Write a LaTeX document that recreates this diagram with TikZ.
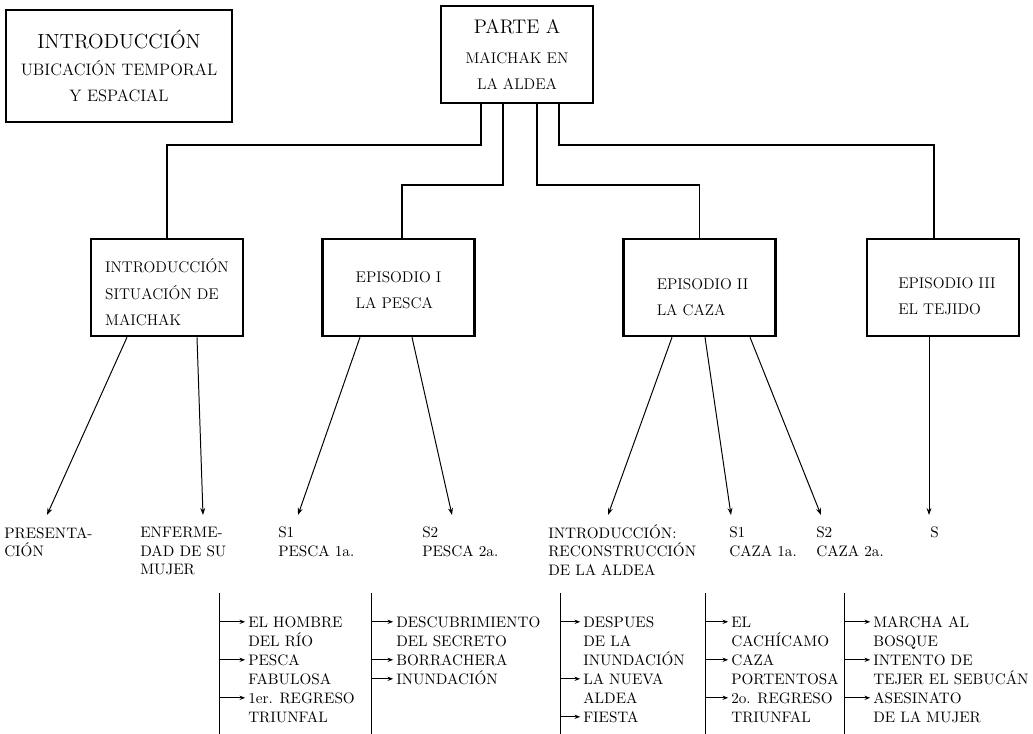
\documentclass[tikz,border=0pt]{standalone}
\usepackage{tikz}
\usetikzlibrary{arrows.meta, positioning, calc}

\begin{document}
\begin{tikzpicture}[x=0.025cm, y=-0.025cm, >=Stealth,
	box/.style={draw, line width=1.8pt, minimum width=3.8cm, minimum height=2.425cm, inner sep=0pt, align=center, font=\fontsize{11}{18.8}\selectfont},
	boxtxt/.style={inner sep=0pt, align=left, font=\fontsize{11}{18.8}\selectfont},
	link/.style={line width=1.4pt},
	arr/.style={-{Stealth[length=5pt, width=3.5pt]}, line width=0.7pt},
	lbl/.style={anchor=north west, inner sep=0pt, align=left, font=\fontsize{10.8}{13.2}\selectfont},
	item/.style={anchor=base west, inner sep=0pt, text height=7.4pt, text depth=0pt, font=\fontsize{10.8}{13.2}\selectfont},
	rule/.style={line width=0.6pt},
	tick/.style={-{Stealth[length=4pt, width=3pt]}, line width=0.9pt, shorten >=2pt}]
	
	\useasboundingbox (0,0) rectangle (1033,734);
	
	% 1. Top boxes
	\node[box, minimum width=5.65cm, minimum height=2.8cm, font=\fontsize{11.8}{18.5}\selectfont] (intro) at (119,66)
		{{\fontsize{14.5}{18.5}\selectfont INTRODUCCIÓN}\\[1pt] UBICACIÓN TEMPORAL\\ Y ESPACIAL};
	\node[box] (parte) at (517,54.5)
		{{\fontsize{14}{18.8}\selectfont PARTE A}\\[2.5pt] MAICHAK EN\\ LA ALDEA};
	
	% 2. Episode boxes
	\node[box] (sit) at (167,287.5) {};
	\node[box] (epiI) at (398.5,287.5) {};
	\node[box] (epiII) at (699.5,287.5) {};
	\node[box] (epiIII) at (943,287.5) {};
	\node[boxtxt] (sitT) at ($(sit)+(0,5)$) {INTRODUCCIÓN\\ SITUACIÓN DE\\ MAICHAK};
	\node[boxtxt] (epiIT) at ($(epiI)+(0,3)$) {EPISODIO I\\ LA PESCA};
	\node[boxtxt] (epiIIT) at ($(epiII)+(3,9.5)$) {EPISODIO II\\ LA CAZA};
	\node[boxtxt] (epiIIIT) at ($(epiIII)+(4,8.5)$) {EPISODIO III\\ EL TEJIDO};
	
	% Elbow links from Parte A
	\draw[link] ($(parte.south)+(-36,0)$) -- ++(0,41) -| (sit.north);
	\draw[link] ($(parte.south)+(-14,0)$) -- ++(0,81) -| ($(epiI.north)+(3.5,0)$);
	\draw[link] ($(parte.south)+(20,0)$) -- ++(0,81) -| (epiII.north);
	\draw[link] ($(parte.south)+(42,0)$) -- ++(0,41) -| ($(epiIII.north)+(-9,0)$);
	
	% 3. Sequence labels
	\node[lbl] (pres) at (4,527) {PRESENTA-\\CIÓN};
	\node[lbl] (enf) at (140,527) {ENFERME-\\DAD DE SU\\MUJER};
	\node[lbl] (pesA) at (278,527) {S1\\PESCA 1a.};
	\node[lbl] (pesB) at (422,527) {S2\\PESCA 2a.};
	\node[lbl] (recon) at (548,524) {INTRODUCCIÓN:\\RECONSTRUCCIÓN\\DE LA ALDEA};
	\node[lbl] (cazA) at (729,527) {S1\\CAZA 1a.};
	\node[lbl] (cazB) at (816,527) {S2\\CAZA 2a.};
	\node[lbl] (tej) at (930,527) {S};
	
	\draw[arr] ($(sit.south)+(-40,0)$) -- ($(pres.north west)+(43,-12)$);
	\draw[arr] ($(sit.south)+(30,0)$) -- ($(enf.north west)+(63,-12)$);
	\draw[arr] ($(epiI.south)+(-38.5,0)$) -- ($(pesA.north west)+(20,-12)$);
	\draw[arr] ($(epiI.south)+(13.5,0)$) -- ($(pesB.north west)+(30,-12)$);
	\draw[arr] ($(epiII.south)+(-27.5,0)$) -- ($(recon.north west)+(60,-9)$);
	\draw[arr] ($(epiII.south)+(5.5,0)$) -- ($(cazA.north west)+(2,-12)$);
	\draw[arr] ($(epiII.south)+(50.5,0)$) -- ($(cazB.north west)+(5,-12)$);
	\draw[arr] ($(epiIII.south)+(-14,0)$) -- ($(tej.north west)+(-1,-12)$);
	
	% 4. Lists of events
	\coordinate (r1) at (219,593);
	\coordinate (r2) at (371,593);
	\coordinate (r3) at (560,593);
	\coordinate (r4) at (705,593);
	\coordinate (r5) at (844,593);
	\foreach \r in {r1,r2,r3,r4,r5}
		\draw[rule] (\r) -- ++(0,141);
	
	\foreach \t [count=\i] in {EL HOMBRE, DEL RÍO, PESCA, FABULOSA, 1er. REGRESO, TRIUNFAL}
		\node[item] (a\i) at (248,{608+19*\i}) {\t};
	\foreach \i in {1,3,5}
		\draw[tick] (a\i.west -| r1) -- (a\i.west);
	
	\foreach \t [count=\i] in {DESCUBRIMIENTO, DEL SECRETO, BORRACHERA, INUNDACIÓN}
		\node[item] (b\i) at (396,{608+19*\i}) {\t};
	\foreach \i in {1,3,4}
		\draw[tick] (b\i.west -| r2) -- (b\i.west);
	
	\foreach \t [count=\i] in {DESPUES, DE LA, INUNDACIÓN, LA NUEVA, ALDEA, FIESTA}
		\node[item] (c\i) at (583,{608+19*\i}) {\t};
	\foreach \i in {1,4,6}
		\draw[tick] (c\i.west -| r3) -- (c\i.west);
	
	\foreach \t [count=\i] in {EL, CACHÍCAMO, CAZA, PORTENTOSA, 2o. REGRESO, TRIUNFAL}
		\node[item] (d\i) at (731,{608+19*\i}) {\t};
	\foreach \i in {1,3,5}
		\draw[tick] (d\i.west -| r4) -- (d\i.west);
	
	\foreach \t [count=\i] in {MARCHA AL, BOSQUE, INTENTO DE, TEJER EL SEBUCÁN, ASESINATO, DE LA MUJER}
		\node[item] (e\i) at (873,{608+19*\i}) {\t};
	\foreach \i in {1,3,5}
		\draw[tick] (e\i.west -| r5) -- (e\i.west);
	
\end{tikzpicture}
\end{document}
